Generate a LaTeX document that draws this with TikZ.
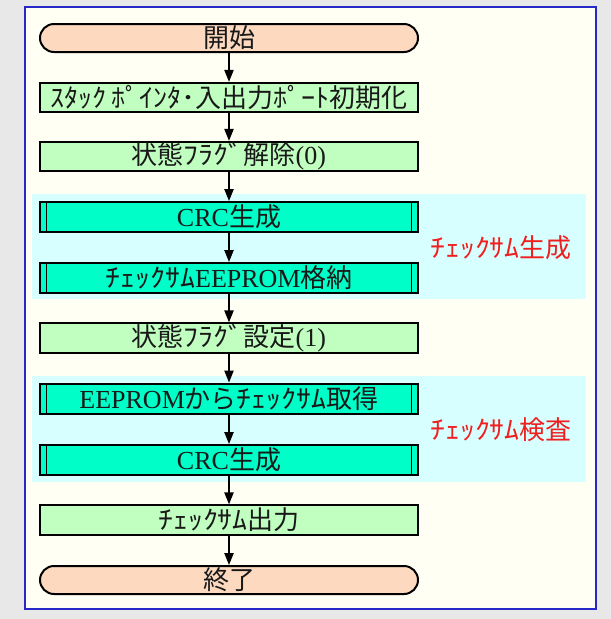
\documentclass[tikz,border=0pt]{standalone}
\usepackage{graphicx}
\usepackage{fontspec}
\setmainfont{Liberation Serif}
\newfontfamily\jp{Noto Sans CJK JP}
\newcommand{\hk}[1]{\scalebox{1.15}[1]{\jp #1}}
\newcommand{\hks}[1]{\scalebox{1.08}[1]{\jp #1}}
\usetikzlibrary{arrows.meta}
\definecolor{pagebg}{HTML}{E8E8E8}
\definecolor{framebg}{HTML}{FFFFF4}
\definecolor{frameline}{HTML}{2828C8}
\definecolor{termfill}{HTML}{FDD9C0}
\definecolor{procfill}{HTML}{C0FFC0}
\definecolor{predfill}{HTML}{00FFC8}
\definecolor{bandfill}{HTML}{D8FFFF}
\definecolor{labelred}{HTML}{F01E1E}
\begin{document}
\begin{tikzpicture}[x=0.75pt,y=-0.75pt,
  base/.style={draw=black,line width=1.5pt,minimum width=283.5pt,inner sep=0pt,
    font=\fontsize{19.5}{22}\selectfont,text=black!90},
  term/.style={base,fill=termfill,rounded corners=10.5pt,minimum height=21pt},
  proc/.style={base,fill=procfill,minimum height=22pt},
  pred/.style={base,fill=predfill,minimum height=22.5pt,
    path picture={
      \draw[line width=1.1pt] ([xshift=5pt]path picture bounding box.north west) -- ([xshift=5pt]path picture bounding box.south west);
      \draw[line width=1.1pt] ([xshift=-5pt]path picture bounding box.north east) -- ([xshift=-5pt]path picture bounding box.south east);}},
  band/.style={fill=bandfill,draw=none},
  grp/.style={text=labelred,font=\fontsize{19.5}{22}\selectfont\jp,inner sep=0pt},
  flow/.style={-{Triangle[length=9pt,width=7pt]},line width=1pt}]
\useasboundingbox (0,0) rectangle (611,619);
\fill[pagebg] (0,0) rectangle (611,619);
\draw[fill=framebg,draw=frameline,line width=1.5pt] (25,7) rectangle (596,609);
\path[band] (32,194) rectangle (586,299);
\path[band] (32,376) rectangle (586,482);

\node[term] (start) at (229,38) {\jp 開始};
\node[proc] (init) at (229,97.5) {\hks{ｽﾀｯｸ}\hspace{0.2em}\hks{ﾎﾟｲﾝﾀ･}{\jp 入出力}\hks{ﾎﾟｰﾄ}{\jp 初期化}};
\node[proc] (clr) at (229,156.5) {{\jp 状態}\hk{ﾌﾗｸﾞ}{\jp 解除}(0)};
\node[pred] (crcA) at (229,217) {CRC{\jp 生成}};
\node[pred] (store) at (229,278) {\hk{ﾁｪｯｸｻﾑ}EEPROM{\jp 格納}};
\node[proc] (set) at (229,338) {{\jp 状態}\hk{ﾌﾗｸﾞ}{\jp 設定}(1)};
\node[pred] (read) at (229,398.5) {EEPROM{\jp から}\hk{ﾁｪｯｸｻﾑ}{\jp 取得}};
\node[pred] (crcB) at (229,460) {CRC{\jp 生成}};
\node[proc] (out) at (229,520) {\hk{ﾁｪｯｸｻﾑ}{\jp 出力}};
\node[term] (stop) at (229,580) {\jp 終了};

\node[grp] (lblA) at (501,248) {\hk{ﾁｪｯｸｻﾑ}生成};
\node[grp] (lblB) at (501,430) {\hk{ﾁｪｯｸｻﾑ}検査};

\draw[flow] (start) -- (init);
\draw[flow] (init) -- (clr);
\draw[flow] (clr) -- (crcA);
\draw[flow] (crcA) -- (store);
\draw[flow] (store) -- (set);
\draw[flow] (set) -- (read);
\draw[flow] (read) -- (crcB);
\draw[flow] (crcB) -- (out);
\draw[flow] (out) -- (stop);
\end{tikzpicture}
\end{document}
